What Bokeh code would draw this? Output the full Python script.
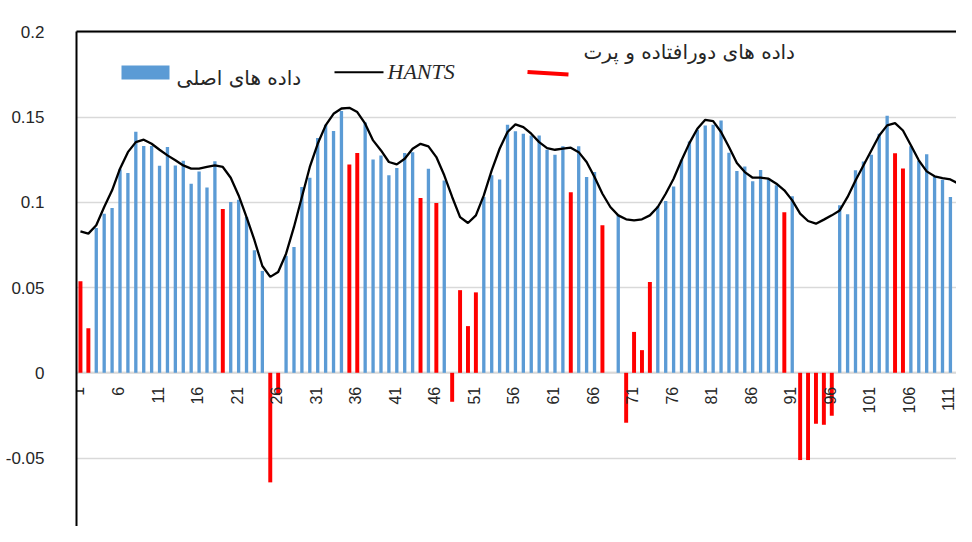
import math
from bokeh.plotting import figure
from bokeh.models import (ColumnDataSource, Range1d, FixedTicker, PrintfTickFormatter,
                          Span, Label, BoxAnnotation, Arrow, LinearAxis)
from bokeh.core.properties import value
from bokeh.embed import file_html
from bokeh.resources import INLINE

NaN = float("nan")

# ---- data -------------------------------------------------------------
categories = list(range(1, 115))

# original data (blue bars); categories without a value are outliers/noise
original = {
    3: 0.0850, 4: 0.0934, 5: 0.0967, 6: 0.1194, 7: 0.1172, 8: 0.1415, 9: 0.1331,
    10: 0.1331, 11: 0.1215, 12: 0.1325, 13: 0.1217, 14: 0.1245, 15: 0.1110,
    16: 0.1182, 17: 0.1088, 18: 0.1241, 20: 0.1002, 21: 0.1016, 22: 0.0914,
    23: 0.0719, 24: 0.0598, 27: 0.0686, 28: 0.0739, 29: 0.1090, 30: 0.1145,
    31: 0.1378, 32: 0.1456, 33: 0.1419, 34: 0.1536, 37: 0.1469, 38: 0.1252,
    39: 0.1276, 40: 0.1159, 41: 0.1202, 42: 0.1290, 43: 0.1295, 45: 0.1198,
    47: 0.1129, 52: 0.1032, 53: 0.1160, 54: 0.1135, 55: 0.1456, 56: 0.1417,
    57: 0.1403, 58: 0.1393, 59: 0.1393, 60: 0.1309, 61: 0.1280, 62: 0.1329,
    64: 0.1329, 65: 0.1149, 66: 0.1178, 69: 0.0928, 74: 0.0977, 75: 0.1008,
    76: 0.1094, 77: 0.1251, 78: 0.1358, 79: 0.1426, 80: 0.1452, 81: 0.1456,
    82: 0.1481, 83: 0.1292, 84: 0.1184, 85: 0.1211, 86: 0.1124, 87: 0.1190,
    88: 0.1143, 89: 0.1100, 91: 0.1036, 97: 0.0983, 98: 0.0930, 99: 0.1188,
    100: 0.1240, 101: 0.1280, 102: 0.1403, 103: 0.1508, 106: 0.1329,
    107: 0.1245, 108: 0.1282, 109: 0.1149, 110: 0.1133, 111: 0.1032,
    112: 0.1122, 113: 0.1045,
}

# outliers and noise (red bars)
outliers = {
    1: 0.0537, 2: 0.0262, 19: 0.0961, 25: -0.0643, 26: -0.0131, 35: 0.1223,
    36: 0.1290, 44: 0.1026, 46: 0.0997, 48: -0.0170, 49: 0.0485, 50: 0.0274,
    51: 0.0472, 63: 0.1059, 67: 0.0866, 70: -0.0293, 71: 0.0240, 72: 0.0133,
    73: 0.0533, 90: 0.0942, 92: -0.0512, 93: -0.0512, 94: -0.0299,
    95: -0.0305, 96: -0.0252, 104: 0.1288, 105: 0.1199,
}

# HANTS reconstruction (black line)
hants = [
    0.0830, 0.0817, 0.0866, 0.0973, 0.1071, 0.1198, 0.1295, 0.1354, 0.1368, 0.1344,
    0.1309, 0.1276, 0.1247, 0.1217, 0.1198, 0.1198, 0.1208, 0.1217, 0.1208, 0.1145,
    0.1041, 0.0914, 0.0778, 0.0627, 0.0563, 0.0592, 0.0699, 0.0856, 0.1032, 0.1208,
    0.1344, 0.1452, 0.1520, 0.1551, 0.1555, 0.1530, 0.1462, 0.1364, 0.1305, 0.1237,
    0.1223, 0.1256, 0.1315, 0.1344, 0.1329, 0.1266, 0.1159, 0.1032, 0.0914, 0.0879,
    0.0924, 0.1041, 0.1188, 0.1315, 0.1413, 0.1458, 0.1442, 0.1403, 0.1354, 0.1319,
    0.1309, 0.1315, 0.1321, 0.1295, 0.1237, 0.1149, 0.1051, 0.0973, 0.0924, 0.0901,
    0.0895, 0.0901, 0.0924, 0.0973, 0.1051, 0.1139, 0.1247, 0.1348, 0.1432, 0.1485,
    0.1477, 0.1413, 0.1325, 0.1231, 0.1178, 0.1145, 0.1145, 0.1139, 0.1110, 0.1071,
    0.1012, 0.0934, 0.0891, 0.0875, 0.0899, 0.0924, 0.0953, 0.1032, 0.1129, 0.1217,
    0.1305, 0.1393, 0.1452, 0.1465, 0.1422, 0.1335, 0.1247, 0.1182, 0.1153, 0.1143,
    0.1135, 0.1110, 0.1061, 0.0985,
]

tick_positions = [1, 6, 11, 16, 21, 26, 31, 36, 41, 46, 51, 56, 61, 66, 71, 76,
                  81, 86, 91, 96, 101, 106, 111]
tick_labels = ["1", "6", "11", "16", "21", "26", "31", "36", "41", "46", "51", "56",
               "61", "66", "71", "76", "81", "86", "91", "96", "101", "106", "111"]
y_ticks = [-0.1, -0.05, 0, 0.05, 0.1, 0.15, 0.2]

label_original = "داده های اصلی"
label_hants = "HANTS"
label_outliers = "داده های دورافتاده و پرت"

# ---- styling ----------------------------------------------------------
BLUE = "#5B9BD5"
RED = "#FF0000"
NUM_FONT = "Liberation Sans"
FA_FONT = "DejaVu Sans"
TXT = "#262626"

src = ColumnDataSource(dict(
    x=categories,
    orig=[original.get(c, NaN) for c in categories],
    out=[outliers.get(c, NaN) for c in categories],
    hants=hants,
))

p = figure(width=956, height=526, output_backend="svg", toolbar_location=None,
           x_range=Range1d(0.5, 111.77), y_range=Range1d(-0.0902, 0.2003),
           x_axis_location=None, min_border_left=76, min_border_right=0,
           min_border_top=31, min_border_bottom=0)
p.outline_line_color = None
p.background_fill_color = "white"

# left axis
p.yaxis.ticker = FixedTicker(ticks=y_ticks)
p.yaxis.formatter = PrintfTickFormatter(format="%g")
p.yaxis.axis_line_color = "black"
p.yaxis.axis_line_width = 2
p.yaxis.major_tick_line_color = None
p.yaxis.minor_tick_line_color = None
p.yaxis.major_label_standoff = 26
p.yaxis.major_label_text_font = NUM_FONT
p.yaxis.major_label_text_font_size = "17px"
p.yaxis.major_label_text_color = TXT

# top border drawn as a bare axis above the frame
top_axis = LinearAxis(ticker=FixedTicker(ticks=[]), axis_line_color="black",
                      axis_line_width=2, major_tick_line_color=None,
                      minor_tick_line_color=None)
p.add_layout(top_axis, "above")

p.ygrid.ticker = FixedTicker(ticks=y_ticks)
p.ygrid.grid_line_color = "#D9D9D9"
p.ygrid.grid_line_width = 1.5
p.xgrid.grid_line_color = None
p.add_layout(Span(location=0, dimension="width", line_color="#D9D9D9",
                  line_width=2, level="underlay"))

# bars and line
p.vbar(x="x", top="orig", bottom=0, width=0.42, source=src,
       fill_color=BLUE, line_color=None)
p.vbar(x="x", top="out", bottom=0, width=0.5, source=src,
       fill_color=RED, line_color=None)
p.line(x="x", y="hants", source=src, line_color="black", line_width=2.3)

# category labels sitting under the zero line
p.text(x=tick_positions, y=[0] * len(tick_positions), text=tick_labels,
       angle=math.pi / 2, text_align="right", text_baseline="middle",
       y_offset=14, x_offset=-2, text_font=value(NUM_FONT),
       text_font_size="16px", text_color=TXT)

# ---- legend (screen units relative to the frame's bottom-left) --------
FB = 526  # page y of the frame bottom, used to express legend positions
p.add_layout(BoxAnnotation(left=45, right=93, bottom=FB - 79, top=FB - 65,
                           left_units="screen", right_units="screen",
                           bottom_units="screen", top_units="screen",
                           fill_color=BLUE, fill_alpha=1, line_color=None))
p.add_layout(Label(x=100, y=FB - 77, x_units="screen", y_units="screen",
                   text=label_original, text_font=FA_FONT, text_font_size="20px",
                   text_baseline="middle", text_align="left", text_color=TXT))

p.add_layout(Arrow(end=None, start=None, x_start=258, y_start=FB - 71.7, x_end=307,
                   y_end=FB - 71.7, start_units="screen", end_units="screen",
                   line_color="black", line_width=2))
p.add_layout(Label(x=311, y=FB - 71, x_units="screen", y_units="screen",
                   text=label_hants, text_font="Liberation Serif",
                   text_font_style="italic", text_font_size="22px",
                   text_baseline="middle", text_align="left", text_color=TXT))

p.add_layout(Arrow(end=None, start=None, x_start=451, y_start=FB - 71.5, x_end=492,
                   y_end=FB - 74, start_units="screen", end_units="screen",
                   line_color=RED, line_width=4))
p.add_layout(Label(x=507, y=FB - 51, x_units="screen", y_units="screen",
                   text=label_outliers, text_font=FA_FONT, text_font_size="20px",
                   text_baseline="middle", text_align="left", text_color=TXT))

open("out.html", "w").write(file_html(p, INLINE))
